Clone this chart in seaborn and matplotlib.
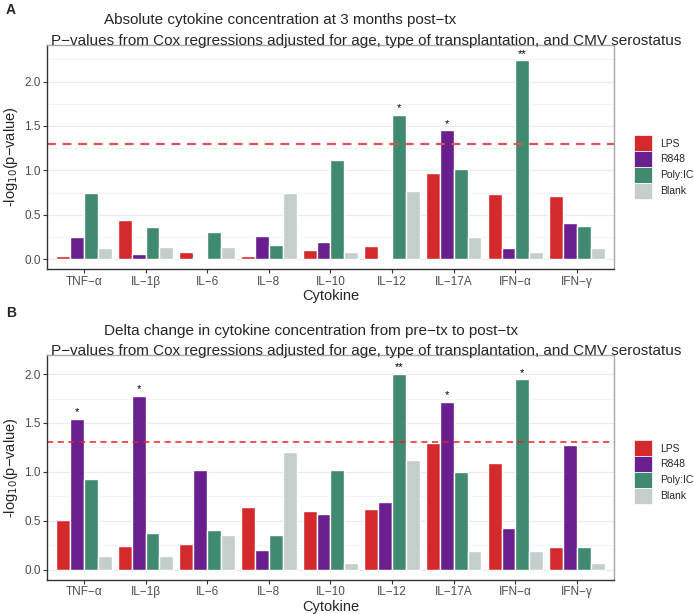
import numpy as np
import pandas as pd
import matplotlib
matplotlib.use("Agg")
import matplotlib.pyplot as plt
import seaborn as sns
from matplotlib.patches import Patch

cytokines = ["TNF\u2212\u03b1", "IL\u22121\u03b2", "IL\u22126", "IL\u22128", "IL\u221210",
             "IL\u221212", "IL\u221217A", "IFN\u2212\u03b1", "IFN\u2212\u03b3"]
stimuli = ["LPS", "R848", "Poly:IC", "Blank"]
colors = ["#D42A2C", "#6A1F8E", "#3F8A70", "#C4CECD"]

# panel A: absolute concentration at 3 months
abs_lps = [0.03, 0.44, 0.075, 0.04, 0.10, 0.15, 0.97, 0.735, 0.71]
abs_r848 = [0.25, 0.06, 0.007, 0.26, 0.19, 0.01, 1.45, 0.13, 0.405]
abs_polyic = [0.75, 0.36, 0.31, 0.16, 1.12, 1.625, 1.01, 2.24, 0.375]
abs_blank = [0.13, 0.14, 0.14, 0.75, 0.08, 0.77, 0.25, 0.08, 0.13]
abs_stars = [("IL\u221212", "Poly:IC", "*"), ("IL\u221217A", "R848", "*"),
             ("IFN\u2212\u03b1", "Poly:IC", "**")]

# panel B: delta change pre-tx to post-tx
delta_lps = [0.505, 0.24, 0.26, 0.64, 0.605, 0.62, 1.30, 1.09, 0.235]
delta_r848 = [1.545, 1.78, 1.02, 0.20, 0.565, 0.695, 1.715, 0.43, 1.275]
delta_polyic = [0.925, 0.38, 0.405, 0.35, 1.02, 2.005, 1.0, 1.945, 0.235]
delta_blank = [0.14, 0.14, 0.35, 1.20, 0.07, 1.125, 0.195, 0.195, 0.07]
delta_stars = [("TNF\u2212\u03b1", "R848", "*"), ("IL\u22121\u03b2", "R848", "*"),
               ("IL\u221212", "Poly:IC", "**"), ("IL\u221217A", "R848", "*"),
               ("IFN\u2212\u03b1", "Poly:IC", "*")]

threshold = -np.log10(0.05)

sns.set_theme(style="white")
plt.rcParams['font.family'] = ['Liberation Sans', 'DejaVu Sans']


def to_long(lps, r848, polyic, blank):
    rows = []
    for stim, vals in zip(stimuli, [lps, r848, polyic, blank]):
        for c, v in zip(cytokines, vals):
            rows.append({"Cytokine": c, "Stimulus": stim, "val": v})
    return pd.DataFrame(rows)


def draw_panel(ax, df, stars, ylim, line_color, line_w):
    ax.set_axisbelow(True)
    ax.set_yticks(np.arange(0, 2.01, 0.5))
    ax.set_yticks(np.arange(0.25, 2.5, 0.5), minor=True)
    ax.grid(True, which="major", color="#EBEBEB", linewidth=0.9)
    ax.grid(True, which="minor", axis="y", color="#F2F2F2", linewidth=0.6)
    sns.barplot(data=df, x="Cytokine", y="val", hue="Stimulus", order=cytokines,
                hue_order=stimuli, palette=colors, width=0.9, saturation=1,
                errorbar=None, legend=False, ax=ax)
    ax.axhline(threshold, color=line_color, linestyle=(0, (4, 3)), linewidth=line_w)
    w = 0.9 / len(stimuli)
    for cyt, stim, lab in stars:
        i = cytokines.index(cyt)
        j = stimuli.index(stim)
        x = i - 0.45 + w * (j + 0.5)
        h = df[(df.Cytokine == cyt) & (df.Stimulus == stim)].val.iloc[0]
        ax.annotate(lab, (x, h), xytext=(0, 1), textcoords="offset points",
                    ha="center", va="bottom", fontsize=8, color="black")
    ax.set_xlim(-0.6, 8.6)
    ax.set_ylim(*ylim)
    ax.set_yticklabels(["0.0", "0.5", "1.0", "1.5", "2.0"])
    ax.set_xlabel("Cytokine", fontsize=10.5, labelpad=1)
    ax.set_ylabel("-log$_{10}$(p\u2212value)", fontsize=10.5, labelpad=3)
    ax.tick_params(axis="both", labelsize=8.5, labelcolor="#4D4D4D", length=3,
                   color="#333333", width=0.8, bottom=True, left=True, pad=1.5)
    ax.tick_params(axis="both", which="minor", length=0)
    for s in ["top", "right"]:
        ax.spines[s].set_color("#A8A8A8")
        ax.spines[s].set_linewidth(1.0)
    for s in ["left", "bottom"]:
        ax.spines[s].set_color("#333333")
        ax.spines[s].set_linewidth(1.0)


fig = plt.figure(figsize=(6.94, 6.14), dpi=100)
axA = fig.add_axes([0.0677, 0.5614, 0.817, 0.3658])
axB = fig.add_axes([0.0677, 0.0554, 0.817, 0.3664])

draw_panel(axA, to_long(abs_lps, abs_r848, abs_polyic, abs_blank), abs_stars,
           (-0.115, 2.415), "#E0525A", 1.6)
draw_panel(axB, to_long(delta_lps, delta_r848, delta_polyic, delta_blank), delta_stars,
           (-0.105, 2.195), "#E4202A", 1.1)

H = 614.0
fig.text(104 / 694, 1 - 20 / H, "Absolute cytokine concentration at 3 months post\u2212tx",
         ha="left", va="center", fontsize=11)
fig.text(51 / 694, 1 - 41 / H,
         "P\u2212values from Cox regressions adjusted for age, type of transplantation, and CMV serostatus",
         ha="left", va="center", fontsize=11)
fig.text(104 / 694, 1 - 331 / H, "Delta change in cytokine concentration from pre\u2212tx to post\u2212tx",
         ha="left", va="center", fontsize=11)
fig.text(51 / 694, 1 - 351 / H,
         "P\u2212values from Cox regressions adjusted for age, type of transplantation, and CMV serostatus",
         ha="left", va="center", fontsize=11)
fig.text(6 / 694, 1 - 10 / H, "A", ha="left", va="center", fontsize=10, fontweight="bold")
fig.text(6 / 694, 1 - 313 / H, "B", ha="left", va="center", fontsize=10, fontweight="bold")

handles = [Patch(facecolor=c, edgecolor="white", linewidth=0.5) for c in colors]
for yc in [167, 472]:
    fig.legend(handles, stimuli, loc="center left", bbox_to_anchor=(634 / 694, 1 - yc / H),
               frameon=False, fontsize=7.5, handlelength=1.75, handleheight=1.95,
               labelspacing=0.0, handletextpad=0.8, borderpad=0, borderaxespad=0)

fig.savefig("out.png", dpi=100)
